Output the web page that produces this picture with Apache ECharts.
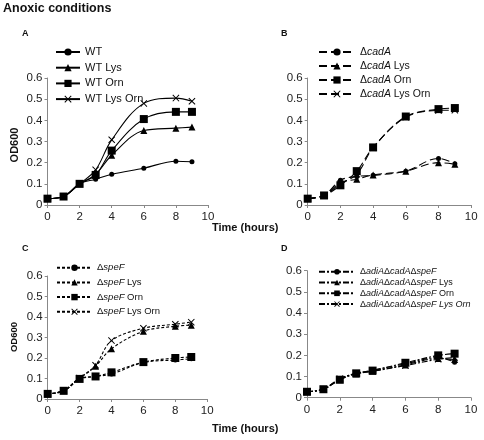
<!DOCTYPE html>
<html><head><meta charset="utf-8">
<script src="https://cdn.jsdelivr.net/npm/echarts@6/dist/echarts.min.js"></script>
<style>html,body{margin:0;padding:0;background:#fff}#c{width:484px;height:440px}</style>
</head><body><div id="c"></div>
<script>
var hours = [0, 1, 2, 3, 4, 6, 8, 9];
var xTicks = [0, 2, 4, 6, 8, 10];
var yTicks = [0, 0.1, 0.2, 0.3, 0.4, 0.5, 0.6];

var namesA = ['WT', 'WT Lys', 'WT Orn', 'WT Lys Orn'];
var wt        = [0.030, 0.040, 0.100, 0.122, 0.145, 0.174, 0.207, 0.204];
var wtLys     = [0.030, 0.040, 0.100, 0.145, 0.235, 0.352, 0.363, 0.368];
var wtOrn     = [0.030, 0.040, 0.100, 0.142, 0.257, 0.406, 0.440, 0.440];
var wtLysOrn  = [0.030, 0.040, 0.100, 0.166, 0.308, 0.480, 0.505, 0.490];

var namesB = ['ΔcadA', 'ΔcadA Lys', 'ΔcadA Orn', 'ΔcadA Lys Orn'];
var cad       = [0.030, 0.045, 0.117, 0.135, 0.140, 0.160, 0.220, 0.195];
var cadLys    = [0.030, 0.045, 0.105, 0.122, 0.142, 0.160, 0.200, 0.193];
var cadOrn    = [0.030, 0.045, 0.093, 0.160, 0.272, 0.418, 0.453, 0.458];
var cadLysOrn = [0.030, 0.045, 0.100, 0.145, 0.270, 0.415, 0.447, 0.448];

var namesC = ['ΔspeF', 'ΔspeF Lys', 'ΔspeF Orn', 'ΔspeF Lys Orn'];
var spe       = [0.025, 0.040, 0.100, 0.110, 0.122, 0.178, 0.190, 0.196];
var speLys    = [0.025, 0.040, 0.100, 0.160, 0.245, 0.330, 0.355, 0.360];
var speOrn    = [0.025, 0.040, 0.098, 0.110, 0.130, 0.180, 0.200, 0.205];
var speLysOrn = [0.025, 0.040, 0.102, 0.165, 0.285, 0.345, 0.365, 0.375];

var namesD = ['ΔadiAΔcadAΔspeF', 'ΔadiAΔcadAΔspeF Lys', 'ΔadiAΔcadAΔspeF Orn', 'ΔadiAΔcadAΔspeF Lys Orn'];
var tri       = [0.028, 0.040, 0.090, 0.115, 0.130, 0.160, 0.190, 0.168];
var triLys    = [0.028, 0.040, 0.085, 0.112, 0.125, 0.155, 0.185, 0.180];
var triOrn    = [0.028, 0.040, 0.085, 0.115, 0.128, 0.165, 0.200, 0.208];
var triLysOrn = [0.028, 0.040, 0.090, 0.115, 0.125, 0.152, 0.182, 0.190];

var FONT = 'Liberation Sans, Arial, sans-serif';
var XSYM = 'path://M0,1L1,0L5,4L9,0L10,1L6,5L10,9L9,10L5,6L1,10L0,9L4,5Z';
var symbols = ['circle', 'triangle', 'rect', XSYM];
var symSizes = [5, 7, 8, 7];

var grids = [
  {left: 47.5, top: 78, width: 160.5, height: 127},
  {left: 307.7, top: 78, width: 163.5, height: 127},
  {left: 47.7, top: 276, width: 159.5, height: 123},
  {left: 307, top: 270.7, width: 164, height: 127}
];

function xAx(i) {
  return {gridIndex: i, type: 'value', min: 0, max: 10, interval: 2,
    axisLine: {lineStyle: {color: '#888', width: 1}},
    axisTick: {show: true, length: 3, lineStyle: {color: '#888'}},
    splitLine: {show: false},
    axisLabel: {color: '#222', fontSize: 11.5, fontFamily: FONT, margin: 6}};
}
function yAx(i) {
  return {gridIndex: i, type: 'value', min: 0, max: 0.6, interval: 0.1,
    axisLine: {show: true, lineStyle: {color: '#888', width: 1}},
    axisTick: {show: true, length: 3, lineStyle: {color: '#888'}},
    splitLine: {show: false},
    axisLabel: {color: '#222', fontSize: 11.5, fontFamily: FONT, margin: 5,
      formatter: function (v) { return String(Math.round(v * 10) / 10); }}};
}

var dashB = [8, 4];
var dashC = [3, 2];
var dashD = [6, 2, 2, 2];

var panels = [
  {names: namesA, data: [wt, wtLys, wtOrn, wtLysOrn], dash: 'solid'},
  {names: namesB, data: [cad, cadLys, cadOrn, cadLysOrn], dash: dashB},
  {names: namesC, data: [spe, speLys, speOrn, speLysOrn], dash: dashC},
  {names: namesD, data: [tri, triLys, triOrn, triLysOrn], dash: dashD}
];

var series = [];
panels.forEach(function (p, pi) {
  p.data.forEach(function (vals, si) {
    series.push({
      type: 'line', name: p.names[si], xAxisIndex: pi, yAxisIndex: pi,
      data: hours.map(function (h, k) { return [h, vals[k]]; }),
      smooth: 0.35, symbol: symbols[si], symbolSize: symSizes[si],
      showSymbol: true, animation: false,
      lineStyle: {color: '#000', width: 1.1, type: p.dash},
      itemStyle: {color: '#000'},
      emphasis: {disabled: true}
    });
  });
});

function italFmt(allItalicLast) {
  return function (name) {
    if (allItalicLast && name === 'ΔadiAΔcadAΔspeF Lys Orn') {
      return 'Δ{i|adiA}Δ{i|cadA}Δ{i|speF Lys Orn}';
    }
    return name.replace(/(adiA|cadA|speF)/g, '{i|$1}');
  };
}

var legends = [
  {data: namesA, left: 55, top: 46, itemWidth: 24, itemHeight: 9, itemGap: 3.7,
   textStyle: {fontSize: 11, lineHeight: 12, fontFamily: FONT, color: '#111'}},
  {data: namesB, left: 318, top: 46, itemWidth: 36, itemHeight: 9, itemGap: 2,
   formatter: italFmt(false),
   textStyle: {fontSize: 10.5, lineHeight: 12, fontFamily: FONT, color: '#111',
     rich: {i: {fontStyle: 'italic', fontSize: 10.5, fontFamily: FONT, color: '#111'}}}},
  {data: namesC, left: 56, top: 261.7, itemWidth: 35, itemHeight: 8, itemGap: 2.7,
   formatter: italFmt(false),
   textStyle: {fontSize: 9.5, lineHeight: 12, fontFamily: FONT, color: '#111',
     rich: {i: {fontStyle: 'italic', fontSize: 9.5, fontFamily: FONT, color: '#111'}}}},
  {data: namesD, left: 318, top: 266.7, itemWidth: 36, itemHeight: 7, itemGap: 0.8,
   formatter: italFmt(true),
   textStyle: {fontSize: 9, lineHeight: 10, fontFamily: FONT, color: '#111',
     rich: {i: {fontStyle: 'italic', fontSize: 9, fontFamily: FONT, color: '#111'}}}}
];
legends.forEach(function (l) { l.orient = 'vertical'; l.selectedMode = false; l.padding = 0; });

function txt(x, y, s, size, extra) {
  var o = {type: 'text', left: x, top: y, silent: true,
    style: {text: s, fontSize: size, fontWeight: 'bold', fontFamily: FONT, fill: '#111'}};
  if (extra) for (var k in extra) o[k] = extra[k];
  return o;
}

var graphic = [
  txt(3, 2, 'Anoxic conditions', 12.5),
  txt(22, 29, 'A', 9),
  txt(281, 29, 'B', 9),
  txt(22, 244, 'C', 9),
  txt(281, 244, 'D', 9),
  txt(212, 222, 'Time (hours)', 11),
  txt(212, 423, 'Time (hours)', 11),
  {type: 'text', x: 15, y: 145, rotation: Math.PI / 2, silent: true,
   style: {text: 'OD600', fontSize: 11, fontWeight: 'bold', fontFamily: FONT, fill: '#111',
     align: 'center', verticalAlign: 'middle'}},
  {type: 'text', x: 14, y: 337, rotation: Math.PI / 2, silent: true,
   style: {text: 'OD600', fontSize: 9.5, fontWeight: 'bold', fontFamily: FONT, fill: '#111',
     align: 'center', verticalAlign: 'middle'}}
];

var chart = echarts.init(document.getElementById('c'), null, {renderer: 'canvas'});
chart.setOption({
  animation: false,
  backgroundColor: '#fff',
  grid: grids,
  xAxis: [0, 1, 2, 3].map(xAx),
  yAxis: [0, 1, 2, 3].map(yAx),
  legend: legends,
  series: series,
  graphic: graphic
});
</script></body></html>
